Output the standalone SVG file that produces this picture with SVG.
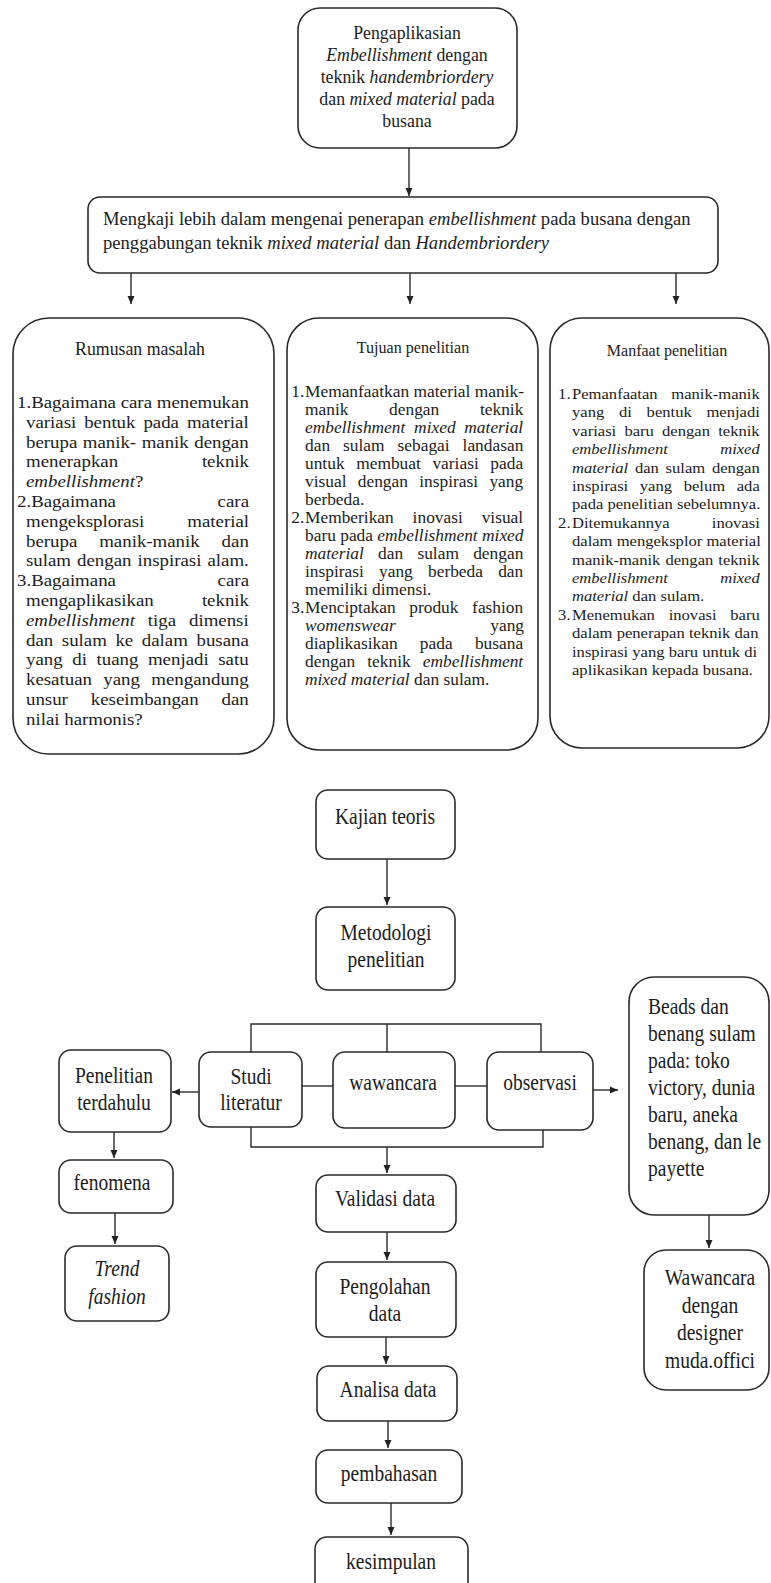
<svg xmlns="http://www.w3.org/2000/svg" width="771" height="1583" viewBox="0 0 771 1583" font-family="'Liberation Serif', 'Times New Roman', serif">
<defs>
<style>
.b{fill:#fff;stroke:#2a2a2a;stroke-width:1.6}
text{font-family:"Liberation Serif","Times New Roman",serif;fill:#1c1c1c}
.i{font-style:italic}
.m{text-anchor:middle}
.e{text-anchor:end}
.c{fill:none;stroke:#2a2a2a;stroke-width:1.4}
.a{marker-end:url(#ah)}
.L{font-size:22.5px}
</style>
<marker id="ah" markerWidth="9" markerHeight="9" refX="8" refY="4" orient="auto" markerUnits="userSpaceOnUse"><path d="M0,0.5 L8,4 L0,7.5 z" fill="#222"/></marker>
</defs>
<rect width="771" height="1583" fill="#fff"/>

<g id="n-top">
<rect class="b" x="298" y="8" width="219" height="140" rx="22"/>
<text class="m" font-size="17.8"><tspan x="407" y="39">Pengaplikasian</tspan><tspan x="407" y="61"><tspan class="i">Embellishment</tspan> dengan</tspan><tspan x="407" y="83">teknik <tspan class="i">handembriordery</tspan></tspan><tspan x="407" y="105">dan <tspan class="i">mixed material</tspan> pada</tspan><tspan x="407" y="127">busana</tspan></text>
</g>

<g id="n-kaji">
<rect class="b" x="88" y="197" width="630" height="76" rx="12"/>
<text font-size="18.6"><tspan x="103" y="225">Mengkaji lebih dalam mengenai penerapan <tspan class="i">embellishment</tspan> pada busana dengan</tspan><tspan x="103" y="249">penggabungan teknik <tspan class="i">mixed material</tspan> dan <tspan class="i">Handembriordery</tspan></tspan></text>
</g>

<g id="n-rumusan">
<rect class="b" x="13" y="318" width="261" height="436" rx="36"/>
<text class="m" x="140" y="355" font-size="17.8">Rumusan masalah</text>
<g transform="translate(26,0) scale(1.11,1)" font-size="17">
<text x="-8.1" y="408">1.Bagaimana cara menemukan</text>
<text x="0" y="427.8" word-spacing="2.9">variasi bentuk pada material</text>
<text x="0" y="447.6" word-spacing="0.7">berupa manik- manik dengan</text>
<text x="0" y="467.4">menerapkan</text><text class="e" x="200.9" y="467.4">teknik</text>
<text x="0" y="487.2"><tspan class="i">embellishment</tspan>?</text>
<text x="-8.1" y="507">2.Bagaimana</text><text class="e" x="200.9" y="507">cara</text>
<text x="0" y="526.8">mengeksplorasi</text><text class="e" x="200.9" y="526.8">material</text>
<text x="0" y="546.6" word-spacing="15.5">berupa manik-manik dan</text>
<text x="0" y="566.4" word-spacing="1.2">sulam dengan inspirasi alam.</text>
<text x="-8.1" y="586.2">3.Bagaimana</text><text class="e" x="200.9" y="586.2">cara</text>
<text x="0" y="606">mengaplikasikan</text><text class="e" x="200.9" y="606">teknik</text>
<text x="0" y="625.8" word-spacing="7.4"><tspan class="i">embellishment</tspan> tiga dimensi</text>
<text x="0" y="645.6" word-spacing="3.5">dan sulam ke dalam busana</text>
<text x="0" y="665.4" word-spacing="4.4">yang di tuang menjadi satu</text>
<text x="0" y="685.2" word-spacing="6">kesatuan yang mengandung</text>
<text x="0" y="705" word-spacing="16.4">unsur keseimbangan dan</text>
<text x="0" y="724.8">nilai harmonis?</text>
</g>
</g>

<g id="n-tujuan">
<rect class="b" x="287" y="318" width="251" height="432" rx="32"/>
<text class="m" x="413" y="353" font-size="16.1">Tujuan penelitian</text>
<g transform="translate(305,0) scale(1.053,1)" font-size="16.5">
<text x="-13" y="397">1.</text><text x="0" y="397">Memanfaatkan material manik-</text>
<text x="0" y="415" word-spacing="34.5">manik dengan teknik</text>
<text x="0" y="433" class="i" word-spacing="4.2">embellishment mixed material</text>
<text x="0" y="451" word-spacing="8.2">dan sulam sebagai landasan</text>
<text x="0" y="469" word-spacing="6.9">untuk membuat variasi pada</text>
<text x="0" y="487" word-spacing="6.6">visual dengan inspirasi yang</text>
<text x="0" y="505">berbeda.</text>
<text x="-13" y="523">2.</text><text x="0" y="523" word-spacing="13.8">Memberikan inovasi visual</text>
<text x="0" y="541">baru pada <tspan class="i">embellishment mixed</tspan></text>
<text x="0" y="559" word-spacing="9.4"><tspan class="i">material</tspan> dan sulam dengan</text>
<text x="0" y="577" word-spacing="10.3">inspirasi yang berbeda dan</text>
<text x="0" y="595">memiliki dimensi.</text>
<text x="-13" y="613">3.</text><text x="0" y="613" word-spacing="8.8">Menciptakan produk fashion</text>
<text x="0" y="631" class="i">womenswear</text><text class="e" x="208" y="631">yang</text>
<text x="0" y="649" word-spacing="17">diaplikasikan pada busana</text>
<text x="0" y="667" word-spacing="7.4">dengan teknik <tspan class="i">embellishment</tspan></text>
<text x="0" y="685"><tspan class="i">mixed material</tspan> dan sulam.</text>
</g>
</g>

<g id="n-manfaat">
<rect class="b" x="550" y="318" width="219" height="430" rx="32"/>
<text class="m" x="667" y="356" font-size="16">Manfaat penelitian</text>
<g transform="translate(572,0) scale(1.07,1)" font-size="15.5">
<text x="-13" y="399">1.</text><text x="0" y="399" word-spacing="8.9">Pemanfaatan manik-manik</text>
<text x="0" y="417.4" word-spacing="9.9">yang di bentuk menjadi</text>
<text x="0" y="435.8" word-spacing="3.8">variasi baru dengan teknik</text>
<text x="0" y="454.2" class="i">embellishment</text><text x="175.5" y="454.2" class="i e">mixed</text>
<text x="0" y="472.6" word-spacing="2.4"><tspan class="i">material</tspan> dan sulam dengan</text>
<text x="0" y="491" word-spacing="7">inspirasi yang belum ada</text>
<text x="0" y="509.4">pada penelitian sebelumnya.</text>
<text x="-13" y="527.8">2.</text><text x="0" y="527.8">Ditemukannya</text><text class="e" x="175.5" y="527.8">inovasi</text>
<text x="0" y="546.2">dalam mengeksplor material</text>
<text x="0" y="564.6" word-spacing="0.8">manik-manik dengan teknik</text>
<text x="0" y="583" class="i">embellishment</text><text class="i e" x="175.5" y="583">mixed</text>
<text x="0" y="601.4"><tspan class="i">material</tspan> dan sulam.</text>
<text x="-13" y="619.8">3.</text><text x="0" y="619.8" word-spacing="9">Menemukan inovasi baru</text>
<text x="0" y="638.2">dalam penerapan teknik dan</text>
<text x="0" y="656.6">inspirasi yang baru untuk di</text>
<text x="0" y="675">aplikasikan kepada busana.</text>
</g>
</g>

<g id="n-kajian-teoris">
<rect class="b" x="316" y="790" width="139" height="69" rx="12"/>
<text class="m L" transform="translate(385,824) scale(0.867,1)">Kajian teoris</text>
</g>
<g id="n-metodologi">
<rect class="b" x="316" y="907" width="139" height="83" rx="12"/>
<text class="m L" transform="translate(386,0) scale(0.867,1)"><tspan x="0" y="940">Metodologi</tspan><tspan x="0" y="967">penelitian</tspan></text>
</g>
<g id="n-penelitian-terdahulu">
<rect class="b" x="59" y="1050" width="112" height="82" rx="12"/>
<text class="m L" transform="translate(114,0) scale(0.867,1)"><tspan x="0" y="1083">Penelitian</tspan><tspan x="0" y="1110">terdahulu</tspan></text>
</g>
<g id="n-studi">
<rect class="b" x="199" y="1052" width="103" height="75" rx="12"/>
<text class="m L" transform="translate(251,0) scale(0.867,1)"><tspan x="0" y="1084">Studi</tspan><tspan x="0" y="1110">literatur</tspan></text>
</g>
<g id="n-wawancara">
<rect class="b" x="333" y="1052" width="122" height="76" rx="12"/>
<text class="m L" transform="translate(393,1090) scale(0.867,1)">wawancara</text>
</g>
<g id="n-observasi">
<rect class="b" x="487" y="1052" width="106" height="78" rx="12"/>
<text class="m L" transform="translate(540,1090) scale(0.867,1)">observasi</text>
</g>
<g id="n-beads">
<rect class="b" x="629" y="977" width="140" height="238" rx="25"/>
<text class="L" transform="translate(648,0) scale(0.867,1)"><tspan x="0" y="1014">Beads dan</tspan><tspan x="0" y="1041">benang sulam</tspan><tspan x="0" y="1068">pada: toko</tspan><tspan x="0" y="1095">victory, dunia</tspan><tspan x="0" y="1122">baru, aneka</tspan><tspan x="0" y="1149">benang, dan le</tspan><tspan x="0" y="1176">payette</tspan></text>
</g>
<g id="n-fenomena">
<rect class="b" x="59" y="1160" width="114" height="53" rx="12"/>
<text class="m L" transform="translate(112,1190) scale(0.867,1)">fenomena</text>
</g>
<g id="n-trend">
<rect class="b" x="65" y="1246" width="104" height="75" rx="12"/>
<text class="m L i" transform="translate(117,0) scale(0.867,1)"><tspan x="0" y="1276">Trend</tspan><tspan x="0" y="1304">fashion</tspan></text>
</g>
<g id="n-validasi">
<rect class="b" x="316" y="1175" width="140" height="57" rx="12"/>
<text class="m L" transform="translate(385,1206) scale(0.867,1)">Validasi data</text>
</g>
<g id="n-pengolahan">
<rect class="b" x="316" y="1262" width="140" height="75" rx="12"/>
<text class="m L" transform="translate(385,0) scale(0.867,1)"><tspan x="0" y="1294">Pengolahan</tspan><tspan x="0" y="1321">data</tspan></text>
</g>
<g id="n-analisa">
<rect class="b" x="317" y="1366" width="140" height="55" rx="12"/>
<text class="m L" transform="translate(388,1397) scale(0.867,1)">Analisa data</text>
</g>
<g id="n-pembahasan">
<rect class="b" x="316" y="1450" width="146" height="53" rx="12"/>
<text class="m L" transform="translate(389,1481) scale(0.867,1)">pembahasan</text>
</g>
<g id="n-kesimpulan">
<rect class="b" x="315" y="1537" width="153" height="60" rx="12"/>
<text class="m L" transform="translate(391,1569) scale(0.867,1)">kesimpulan</text>
</g>
<g id="n-wawancara-designer">
<rect class="b" x="644" y="1250" width="125" height="140" rx="22"/>
<text class="m L" transform="translate(710,0) scale(0.867,1)"><tspan x="0" y="1285">Wawancara</tspan><tspan x="0" y="1313">dengan</tspan><tspan x="0" y="1340">designer</tspan><tspan x="0" y="1368">muda.offici</tspan></text>
</g>

<g id="connectors">
<line class="c a" x1="409" y1="148" x2="409" y2="196"/>
<line class="c a" x1="131" y1="273" x2="131" y2="304"/>
<line class="c a" x1="410" y1="273" x2="410" y2="304"/>
<line class="c a" x1="676" y1="273" x2="676" y2="304"/>
<line class="c a" x1="387" y1="859" x2="387" y2="905"/>
<polyline class="c" points="251,1052 251,1024 541,1024 541,1052"/>
<line class="c" x1="387" y1="1024" x2="387" y2="1052"/>
<line class="c" x1="302" y1="1086" x2="333" y2="1086"/>
<line class="c" x1="455" y1="1086" x2="487" y2="1086"/>
<line class="c a" x1="199" y1="1092" x2="172" y2="1092"/>
<line class="c a" x1="593" y1="1090" x2="618" y2="1090"/>
<polyline class="c" points="251,1127 251,1147 543,1147 543,1130"/>
<line class="c a" x1="387" y1="1147" x2="387" y2="1173"/>
<line class="c a" x1="114" y1="1132" x2="114" y2="1158"/>
<line class="c a" x1="115" y1="1213" x2="115" y2="1244"/>
<line class="c a" x1="387" y1="1232" x2="387" y2="1260"/>
<line class="c a" x1="386" y1="1337" x2="386" y2="1364"/>
<line class="c a" x1="388" y1="1421" x2="388" y2="1448"/>
<line class="c a" x1="391" y1="1503" x2="391" y2="1535"/>
<line class="c a" x1="709" y1="1215" x2="709" y2="1248"/>
</g>
</svg>
